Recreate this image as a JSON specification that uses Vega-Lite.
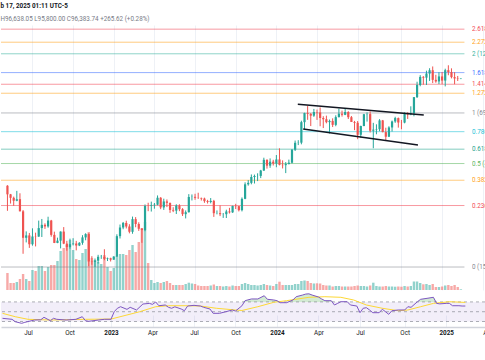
{
"$schema": "https://vega.github.io/schema/vega-lite/v6.json",
"padding": {"left": 0, "top": 3, "right": 0, "bottom": 0},
"background": "#ffffff",
"spacing": 0,
"title": {"text": "b 17, 2025 01:11 UTC-5", "subtitle": "H96,638.05  L95,800.00  C96,383.74  +265.62 (+0.28%)", "anchor": "start", "frame": "bounds", "font": "Roboto", "subtitleFont": "Roboto", "fontSize": 6.3, "subtitleFontSize": 6.3, "fontWeight": "bold", "color": "#131722", "subtitleColor": "#787b86", "subtitlePadding": 6, "offset": 3},
"config": {"font": "Roboto", "view": {"stroke": null}},
"datasets": {
"w": [
{"d":"2022-05-09","o":34060,"h":34240,"l":26700,"c":31330,"v":340},
{"d":"2022-05-16","o":31330,"h":31450,"l":28650,"c":30290,"v":140},
{"d":"2022-05-23","o":30290,"h":30650,"l":28020,"c":29440,"v":140},
{"d":"2022-05-30","o":29440,"h":32400,"l":29300,"c":29900,"v":160},
{"d":"2022-06-06","o":29900,"h":31650,"l":26560,"c":26570,"v":220},
{"d":"2022-06-13","o":26570,"h":26900,"l":17600,"c":20550,"v":320},
{"d":"2022-06-20","o":20550,"h":21870,"l":19650,"c":21030,"v":220},
{"d":"2022-06-27","o":21030,"h":21540,"l":18630,"c":19300,"v":180},
{"d":"2022-07-04","o":19300,"h":22530,"l":19040,"c":20830,"v":400},
{"d":"2022-07-11","o":20830,"h":21600,"l":18900,"c":20790,"v":380},
{"d":"2022-07-18","o":20790,"h":24280,"l":20750,"c":22580,"v":480},
{"d":"2022-07-25","o":22580,"h":24670,"l":20710,"c":23300,"v":480},
{"d":"2022-08-01","o":23300,"h":23650,"l":22400,"c":22950,"v":380},
{"d":"2022-08-08","o":22950,"h":25210,"l":22660,"c":24300,"v":460},
{"d":"2022-08-15","o":24300,"h":24450,"l":20770,"c":21140,"v":500},
{"d":"2022-08-22","o":21140,"h":21810,"l":19520,"c":19550,"v":500},
{"d":"2022-08-29","o":19550,"h":20580,"l":19500,"c":19990,"v":580},
{"d":"2022-09-05","o":19990,"h":21860,"l":18540,"c":21830,"v":780},
{"d":"2022-09-12","o":21830,"h":22800,"l":19320,"c":19420,"v":840},
{"d":"2022-09-19","o":19420,"h":19960,"l":18130,"c":18800,"v":900},
{"d":"2022-09-26","o":18800,"h":20380,"l":18490,"c":19310,"v":1000},
{"d":"2022-10-03","o":19310,"h":20470,"l":19080,"c":19440,"v":800},
{"d":"2022-10-10","o":19440,"h":19950,"l":18190,"c":19070,"v":620},
{"d":"2022-10-17","o":19070,"h":19700,"l":18960,"c":19570,"v":600},
{"d":"2022-10-24","o":19570,"h":21080,"l":19210,"c":20630,"v":740},
{"d":"2022-10-31","o":20630,"h":21480,"l":20060,"c":21300,"v":820},
{"d":"2022-11-07","o":21300,"h":21470,"l":15590,"c":16330,"v":1160},
{"d":"2022-11-14","o":16330,"h":17190,"l":15820,"c":16280,"v":640},
{"d":"2022-11-21","o":16280,"h":16810,"l":15480,"c":16460,"v":600},
{"d":"2022-11-28","o":16460,"h":17420,"l":16000,"c":17090,"v":560},
{"d":"2022-12-05","o":17090,"h":17400,"l":16750,"c":17100,"v":520},
{"d":"2022-12-12","o":17100,"h":18390,"l":16530,"c":16750,"v":700},
{"d":"2022-12-19","o":16750,"h":16960,"l":16400,"c":16840,"v":460},
{"d":"2022-12-26","o":16840,"h":16940,"l":16330,"c":16620,"v":380},
{"d":"2023-01-02","o":16620,"h":17180,"l":16600,"c":17130,"v":440},
{"d":"2023-01-09","o":17130,"h":21260,"l":17100,"c":20880,"v":680},
{"d":"2023-01-16","o":20880,"h":23370,"l":20410,"c":22710,"v":720},
{"d":"2023-01-23","o":22710,"h":23960,"l":22330,"c":23740,"v":720},
{"d":"2023-01-30","o":23740,"h":24250,"l":22500,"c":22930,"v":700},
{"d":"2023-02-06","o":22930,"h":23450,"l":21460,"c":21780,"v":800},
{"d":"2023-02-13","o":21780,"h":25250,"l":21370,"c":24630,"v":900},
{"d":"2023-02-20","o":24630,"h":25120,"l":22760,"c":23490,"v":760},
{"d":"2023-02-27","o":23490,"h":23890,"l":21970,"c":22430,"v":960},
{"d":"2023-03-06","o":22430,"h":22600,"l":19570,"c":22150,"v":1240},
{"d":"2023-03-13","o":22150,"h":28400,"l":21900,"c":28000,"v":1360},
{"d":"2023-03-20","o":28000,"h":28870,"l":26600,"c":27990,"v":540},
{"d":"2023-03-27","o":27990,"h":29190,"l":26510,"c":28190,"v":200},
{"d":"2023-04-03","o":28190,"h":28800,"l":27250,"c":28330,"v":140},
{"d":"2023-04-10","o":28330,"h":31000,"l":28170,"c":30310,"v":160},
{"d":"2023-04-17","o":30310,"h":30490,"l":27130,"c":27590,"v":140},
{"d":"2023-04-24","o":27590,"h":30030,"l":26940,"c":29240,"v":160},
{"d":"2023-05-01","o":29240,"h":29820,"l":27680,"c":28850,"v":180},
{"d":"2023-05-08","o":28850,"h":28880,"l":26170,"c":26930,"v":140},
{"d":"2023-05-15","o":26930,"h":27650,"l":26360,"c":26750,"v":100},
{"d":"2023-05-22","o":26750,"h":28450,"l":25880,"c":28080,"v":100},
{"d":"2023-05-29","o":28080,"h":28450,"l":26600,"c":27120,"v":100},
{"d":"2023-06-05","o":27120,"h":27400,"l":25390,"c":25850,"v":100},
{"d":"2023-06-12","o":25850,"h":26800,"l":24800,"c":26340,"v":120},
{"d":"2023-06-19","o":26340,"h":31390,"l":26250,"c":30540,"v":146},
{"d":"2023-06-26","o":30540,"h":31300,"l":29520,"c":30580,"v":130},
{"d":"2023-07-03","o":30580,"h":31500,"l":29710,"c":30290,"v":120},
{"d":"2023-07-10","o":30290,"h":31820,"l":29960,"c":30250,"v":90},
{"d":"2023-07-17","o":30250,"h":30350,"l":29500,"c":30080,"v":80},
{"d":"2023-07-24","o":30080,"h":30340,"l":28860,"c":29330,"v":80},
{"d":"2023-07-31","o":29330,"h":29700,"l":28660,"c":29080,"v":80},
{"d":"2023-08-07","o":29080,"h":30220,"l":28700,"c":29400,"v":90},
{"d":"2023-08-14","o":29400,"h":29690,"l":25170,"c":26090,"v":110},
{"d":"2023-08-21","o":26090,"h":26800,"l":25800,"c":26100,"v":80},
{"d":"2023-08-28","o":26100,"h":28140,"l":25370,"c":25830,"v":80},
{"d":"2023-09-04","o":25830,"h":26140,"l":24930,"c":25840,"v":70},
{"d":"2023-09-11","o":25840,"h":26990,"l":24900,"c":26530,"v":80},
{"d":"2023-09-18","o":26530,"h":27480,"l":26010,"c":26300,"v":70},
{"d":"2023-09-25","o":26300,"h":28060,"l":26170,"c":27990,"v":90},
{"d":"2023-10-02","o":27990,"h":28580,"l":27160,"c":27930,"v":80},
{"d":"2023-10-09","o":27930,"h":27980,"l":26540,"c":26860,"v":80},
{"d":"2023-10-16","o":26860,"h":30400,"l":26540,"c":29990,"v":120},
{"d":"2023-10-23","o":29990,"h":35200,"l":29880,"c":34530,"v":140},
{"d":"2023-10-30","o":34530,"h":35980,"l":34080,"c":35020,"v":120},
{"d":"2023-11-06","o":35020,"h":38000,"l":34530,"c":37070,"v":100},
{"d":"2023-11-13","o":37070,"h":37950,"l":34800,"c":37450,"v":100},
{"d":"2023-11-20","o":37450,"h":38420,"l":35630,"c":37460,"v":90},
{"d":"2023-11-27","o":37460,"h":39720,"l":36680,"c":39470,"v":100},
{"d":"2023-12-04","o":39470,"h":44700,"l":39280,"c":43790,"v":120},
{"d":"2023-12-11","o":43790,"h":44000,"l":40220,"c":41380,"v":100},
{"d":"2023-12-18","o":41380,"h":44400,"l":40520,"c":43010,"v":90},
{"d":"2023-12-25","o":43010,"h":43800,"l":41440,"c":42280,"v":80},
{"d":"2024-01-01","o":42280,"h":45880,"l":40750,"c":43950,"v":120},
{"d":"2024-01-08","o":43950,"h":48970,"l":41500,"c":41730,"v":166},
{"d":"2024-01-15","o":41730,"h":43570,"l":40280,"c":41580,"v":100},
{"d":"2024-01-22","o":41580,"h":42840,"l":38500,"c":42030,"v":100},
{"d":"2024-01-29","o":42030,"h":43880,"l":41880,"c":42580,"v":100},
{"d":"2024-02-05","o":42580,"h":48590,"l":42260,"c":48300,"v":100},
{"d":"2024-02-12","o":48300,"h":52800,"l":47710,"c":51660,"v":120},
{"d":"2024-02-19","o":51660,"h":52980,"l":50520,"c":51730,"v":120},
{"d":"2024-02-26","o":51730,"h":64000,"l":50900,"c":63110,"v":180},
{"d":"2024-03-04","o":63110,"h":69170,"l":59000,"c":68950,"v":190},
{"d":"2024-03-11","o":68950,"h":73780,"l":64550,"c":68390,"v":180},
{"d":"2024-03-18","o":68390,"h":68920,"l":60770,"c":67220,"v":140},
{"d":"2024-03-25","o":67220,"h":71760,"l":66430,"c":69650,"v":130},
{"d":"2024-04-01","o":69650,"h":71300,"l":64500,"c":69360,"v":134},
{"d":"2024-04-08","o":69360,"h":72800,"l":60660,"c":65700,"v":130},
{"d":"2024-04-15","o":65700,"h":66870,"l":59600,"c":64940,"v":100},
{"d":"2024-04-22","o":64940,"h":67230,"l":62400,"c":63110,"v":90},
{"d":"2024-04-29","o":63110,"h":64740,"l":56550,"c":63880,"v":90},
{"d":"2024-05-06","o":63880,"h":65500,"l":60190,"c":61480,"v":70},
{"d":"2024-05-13","o":61480,"h":67450,"l":60660,"c":66270,"v":80},
{"d":"2024-05-20","o":66270,"h":71950,"l":66060,"c":68510,"v":80},
{"d":"2024-05-27","o":68510,"h":70600,"l":66600,"c":67770,"v":70},
{"d":"2024-06-03","o":67770,"h":71950,"l":67550,"c":69650,"v":70},
{"d":"2024-06-10","o":69650,"h":70200,"l":65060,"c":66220,"v":70},
{"d":"2024-06-17","o":66220,"h":67000,"l":63220,"c":63230,"v":70},
{"d":"2024-06-24","o":63230,"h":63900,"l":58400,"c":62730,"v":80},
{"d":"2024-07-01","o":62730,"h":63800,"l":53500,"c":55850,"v":90},
{"d":"2024-07-08","o":55850,"h":61000,"l":54300,"c":60800,"v":80},
{"d":"2024-07-15","o":60800,"h":68370,"l":60650,"c":68150,"v":80},
{"d":"2024-07-22","o":68150,"h":69400,"l":63450,"c":68250,"v":70},
{"d":"2024-07-29","o":68250,"h":70000,"l":57100,"c":58100,"v":90},
{"d":"2024-08-05","o":58100,"h":62700,"l":49000,"c":58700,"v":146},
{"d":"2024-08-12","o":58700,"h":61800,"l":56100,"c":58950,"v":80},
{"d":"2024-08-19","o":58950,"h":65000,"l":57800,"c":64200,"v":70},
{"d":"2024-08-26","o":64200,"h":64480,"l":57200,"c":57300,"v":70},
{"d":"2024-09-02","o":57300,"h":59800,"l":52550,"c":54800,"v":80},
{"d":"2024-09-09","o":54800,"h":60650,"l":54600,"c":59950,"v":70},
{"d":"2024-09-16","o":59950,"h":64100,"l":57600,"c":63550,"v":70},
{"d":"2024-09-23","o":63550,"h":66500,"l":62700,"c":65650,"v":66},
{"d":"2024-09-30","o":65650,"h":66000,"l":59850,"c":62900,"v":70},
{"d":"2024-10-07","o":62900,"h":64500,"l":58900,"c":62850,"v":66},
{"d":"2024-10-14","o":62850,"h":69400,"l":62400,"c":69000,"v":80},
{"d":"2024-10-21","o":69000,"h":69500,"l":65100,"c":67950,"v":70},
{"d":"2024-10-28","o":67950,"h":73600,"l":67500,"c":68750,"v":80},
{"d":"2024-11-04","o":68750,"h":80500,"l":66800,"c":80450,"v":170},
{"d":"2024-11-11","o":80450,"h":93450,"l":79800,"c":90550,"v":170},
{"d":"2024-11-18","o":90550,"h":99600,"l":89400,"c":97900,"v":140},
{"d":"2024-11-25","o":97900,"h":98700,"l":90800,"c":97200,"v":114},
{"d":"2024-12-02","o":97200,"h":104000,"l":90500,"c":101150,"v":120},
{"d":"2024-12-09","o":101150,"h":106500,"l":94150,"c":104450,"v":100},
{"d":"2024-12-16","o":104450,"h":108350,"l":92200,"c":95150,"v":120},
{"d":"2024-12-23","o":95150,"h":99950,"l":92500,"c":93700,"v":60},
{"d":"2024-12-30","o":93700,"h":102500,"l":91300,"c":98350,"v":60},
{"d":"2025-01-06","o":98350,"h":102700,"l":91200,"c":94500,"v":70},
{"d":"2025-01-13","o":94500,"h":106000,"l":89300,"c":104500,"v":90},
{"d":"2025-01-20","o":104500,"h":109600,"l":99500,"c":102600,"v":100},
{"d":"2025-01-27","o":102600,"h":106400,"l":96500,"c":97700,"v":80},
{"d":"2025-02-03","o":97700,"h":102500,"l":91200,"c":96450,"v":100},
{"d":"2025-02-10","o":96450,"h":98800,"l":94100,"c":96120,"v":60},
{"d":"2025-02-17","o":96120,"h":96640,"l":95800,"c":96380,"v":14}
],
"rsi": [
{"d":"2022-05-09","v":36.5},{"d":"2022-05-30","v":34.5},{"d":"2022-06-06","v":29.6},{"d":"2022-06-20","v":26.3},{"d":"2022-06-27","v":28.3},
{"d":"2022-07-18","v":33},{"d":"2022-08-01","v":33.5},{"d":"2022-08-08","v":38.6},{"d":"2022-08-22","v":31.6},{"d":"2022-08-29","v":36.5},
{"d":"2022-09-05","v":34.5},{"d":"2022-09-26","v":33},{"d":"2022-10-17","v":34.5},{"d":"2022-10-31","v":39.8},{"d":"2022-11-07","v":31.6},
{"d":"2022-11-14","v":30.4},{"d":"2022-12-05","v":33},{"d":"2022-12-19","v":34.5},{"d":"2023-01-02","v":34.5},{"d":"2023-01-09","v":50},
{"d":"2023-01-16","v":57},{"d":"2023-01-23","v":60.2},{"d":"2023-02-06","v":54.8},{"d":"2023-02-13","v":59},{"d":"2023-02-27","v":53.5},
{"d":"2023-03-13","v":65.7},{"d":"2023-03-27","v":67},{"d":"2023-04-03","v":65},{"d":"2023-04-10","v":69.8},{"d":"2023-04-17","v":62.2},
{"d":"2023-05-01","v":63.7},{"d":"2023-05-08","v":59},{"d":"2023-05-15","v":57},{"d":"2023-05-22","v":60},{"d":"2023-06-05","v":55.5},
{"d":"2023-06-12","v":52},{"d":"2023-06-19","v":61.6},{"d":"2023-07-03","v":63},{"d":"2023-07-17","v":61.6},{"d":"2023-07-24","v":59},
{"d":"2023-08-07","v":55.5},{"d":"2023-08-14","v":46.7},{"d":"2023-08-28","v":46.7},{"d":"2023-09-11","v":50},{"d":"2023-09-25","v":53.5},
{"d":"2023-10-02","v":51.4},{"d":"2023-10-16","v":62},{"d":"2023-10-23","v":72.5},{"d":"2023-11-06","v":76},{"d":"2023-11-20","v":76},
{"d":"2023-12-04","v":82.6},{"d":"2023-12-11","v":75.3},{"d":"2023-12-25","v":73.9},{"d":"2024-01-01","v":72.5},{"d":"2024-01-08","v":68.4},
{"d":"2024-01-22","v":68.4},{"d":"2024-02-05","v":73.9},{"d":"2024-02-12","v":80.6},{"d":"2024-02-26","v":84},{"d":"2024-03-04","v":86},
{"d":"2024-03-11","v":86.5},{"d":"2024-03-18","v":84},{"d":"2024-04-01","v":80},{"d":"2024-04-08","v":76},{"d":"2024-04-15","v":72.5},
{"d":"2024-04-29","v":72.5},{"d":"2024-05-06","v":63.7},{"d":"2024-05-13","v":67},{"d":"2024-05-20","v":70.4},{"d":"2024-06-03","v":70.4},
{"d":"2024-06-10","v":63.7},{"d":"2024-06-24","v":61.6},{"d":"2024-07-01","v":48},{"d":"2024-07-08","v":57},{"d":"2024-07-15","v":58.2},
{"d":"2024-07-22","v":53.5},{"d":"2024-07-29","v":48},{"d":"2024-08-12","v":48},{"d":"2024-08-19","v":55},{"d":"2024-09-02","v":44.7},
{"d":"2024-09-09","v":52},{"d":"2024-09-23","v":53.5},{"d":"2024-10-07","v":53.5},{"d":"2024-10-14","v":60.2},{"d":"2024-10-21","v":59},
{"d":"2024-11-04","v":70.4},{"d":"2024-11-11","v":75.3},{"d":"2024-11-25","v":77.3},{"d":"2024-12-09","v":79.4},{"d":"2024-12-16","v":67},
{"d":"2024-12-23","v":66},{"d":"2025-01-06","v":67},{"d":"2025-01-13","v":67},{"d":"2025-01-20","v":62.2},{"d":"2025-02-03","v":62.2},
{"d":"2025-02-10","v":61.6},{"d":"2025-02-17","v":61.6}
],
"ma": [
{"d":"2022-05-09","v":46.7},{"d":"2022-06-06","v":39.8},{"d":"2022-07-04","v":34.5},{"d":"2022-08-22","v":33},{"d":"2022-11-07","v":34.5},
{"d":"2023-01-02","v":35},{"d":"2023-02-06","v":43.3},{"d":"2023-03-06","v":50},{"d":"2023-04-10","v":60.2},{"d":"2023-05-08","v":62.2},
{"d":"2023-06-19","v":62.2},{"d":"2023-07-17","v":61.6},{"d":"2023-08-21","v":57},{"d":"2023-10-02","v":53.5},{"d":"2023-10-16","v":52.5},
{"d":"2023-11-20","v":60.2},{"d":"2023-12-25","v":69.2},{"d":"2024-01-22","v":72.5},{"d":"2024-03-11","v":79.4},{"d":"2024-04-15","v":80.6},
{"d":"2024-05-20","v":79.4},{"d":"2024-06-17","v":73.9},{"d":"2024-07-15","v":63.7},{"d":"2024-08-19","v":57},{"d":"2024-09-23","v":52},
{"d":"2024-10-14","v":53.5},{"d":"2024-11-11","v":60.2},{"d":"2024-12-09","v":67},{"d":"2025-01-13","v":70.4},{"d":"2025-02-17","v":69}
],
"fib": [
{"lvl":"2.618","p":155601.83,"t":"2.618 (155,601.83)"},
{"lvl":"2.272","p":137082.53,"t":"2.272 (137,082.53)"},
{"lvl":"2","p":122524,"t":"2 (122,524.00)"},
{"lvl":"1.618","p":102077.83,"t":"1.618 (102,077.83)"},
{"lvl":"1.414","p":91158.94,"t":"1.414 (91,158.94)"},
{"lvl":"1.272","p":83558.53,"t":"1.272 (83,558.53)"},
{"lvl":"1","p":69000,"t":"1 (69,000.00)"},
{"lvl":"0.786","p":57545.86,"t":"0.786 (57,545.86)"},
{"lvl":"0.618","p":48553.83,"t":"0.618 (48,553.83)"},
{"lvl":"0.5","p":42238,"t":"0.5 (42,238.00)"},
{"lvl":"0.382","p":35922.17,"t":"0.382 (35,922.17)"},
{"lvl":"0.236","p":28107.66,"t":"0.236 (28,107.66)"},
{"lvl":"0","p":15476,"t":"0 (15,476.00)"}
],
"ch": [
{"d":"2024-02-18","p":75060,"g":"a"},{"d":"2024-11-26","p":67640,"g":"a"},
{"d":"2024-03-01","p":59040,"g":"b"},{"d":"2024-11-13","p":50560,"g":"b"}
]
},
"vconcat": [
{
"width": 490, "height": 265,
"resolve": {"scale": {"y": "independent"}},
"layer": [
{"data": {"name": "w"},
 "mark": {"type": "bar", "width": 2.4, "opacity": 0.5, "clip": true},
 "encoding": {
  "x": {"field": "d", "type": "temporal", "scale": {"type": "utc", "domain": [{"year":2022,"month":5,"date":5,"hours":18,"minutes":30,"utc":true},{"year":2025,"month":4,"date":14,"hours":7,"utc":true}]},
        "axis": {"values": [{"year":2022,"month":7,"date":4,"utc":true},{"year":2022,"month":10,"date":3,"utc":true},{"year":2023,"month":1,"date":2,"utc":true},{"year":2023,"month":4,"date":3,"utc":true},{"year":2023,"month":7,"date":3,"utc":true},{"year":2023,"month":10,"date":2,"utc":true},{"year":2024,"month":1,"date":1,"utc":true},{"year":2024,"month":4,"date":1,"utc":true},{"year":2024,"month":7,"date":1,"utc":true},{"year":2024,"month":10,"date":7,"utc":true},{"year":2025,"month":1,"date":6,"utc":true},{"year":2025,"month":4,"date":7,"utc":true}],
                 "labels": false, "ticks": false, "domain": false, "grid": true, "gridColor": "#eef1f6", "title": null}},
  "y": {"field": "v", "type": "quantitative", "scale": {"domain": [0, 5300], "nice": false}, "axis": null},
  "color": {"condition": {"test": "datum.c >= datum.o", "value": "#26a69a"}, "value": "#ef5350"}
 }},
{"layer": [
 {"data": {"name": "fib"},
  "mark": {"type": "rule", "opacity": 0.5, "clip": true},
  "encoding": {
   "x": {"datum": {"year":2022,"month":4,"date":1,"utc":true}, "type": "temporal"},
   "x2": {"datum": {"year":2025,"month":2,"date":25,"utc":true}},
   "y": {"field": "p", "type": "quantitative", "scale": {"type": "log", "domain": [12383, 162008], "nice": false}, "axis": null},
   "color": {"field": "lvl", "type": "nominal", "legend": null, "scale": {"domain": ["2.618","2.272","2","1.618","1.414","1.272","1","0.786","0.618","0.5","0.382","0.236","0"], "range": ["#f23645","#ff9800","#22ab94","#2962ff","#f23645","#ff9800","#787b86","#00bcd4","#089981","#4caf50","#ff9800","#f23645","#787b86"]}},
   "strokeWidth": {"field": "lvl", "type": "nominal", "legend": null, "scale": {"domain": ["2.618","2.272","2","1.618","1.414","1.272","1","0.786","0.618","0.5","0.382","0.236","0"], "range": [1,1,1,1,1.5,2,1,1,1,1.8,1,1,1]}}
  }},
 {"data": {"name": "fib"},
  "mark": {"type": "text", "align": "left", "baseline": "middle", "fontSize": 6.3, "opacity": 0.9, "clip": true},
  "encoding": {
   "x": {"datum": {"year":2025,"month":3,"date":14,"utc":true}, "type": "temporal"},
   "y": {"field": "p", "type": "quantitative", "scale": {"type": "log", "domain": [12383, 162008], "nice": false}, "axis": null},
   "text": {"field": "t"},
   "color": {"field": "lvl", "type": "nominal", "legend": null}
  }},
 {"data": {"name": "w"},
  "mark": {"type": "rule", "strokeWidth": 1, "clip": true},
  "encoding": {
   "x": {"field": "d", "type": "temporal"},
   "y": {"field": "l", "type": "quantitative", "scale": {"type": "log", "domain": [12383, 162008], "nice": false}, "axis": null},
   "y2": {"field": "h"},
   "color": {"condition": {"test": "datum.c >= datum.o", "value": "#26a69a"}, "value": "#ef5350"}
  }},
 {"data": {"name": "w"},
  "mark": {"type": "bar", "width": 2.2, "clip": true},
  "encoding": {
   "x": {"field": "d", "type": "temporal"},
   "y": {"field": "o", "type": "quantitative", "scale": {"type": "log", "domain": [12383, 162008], "nice": false}, "axis": null},
   "y2": {"field": "c"},
   "color": {"condition": {"test": "datum.c >= datum.o", "value": "#26a69a"}, "value": "#ef5350"}
  }},
 {"data": {"name": "ch"},
  "mark": {"type": "line", "color": "#131722", "strokeWidth": 1.6, "clip": true},
  "encoding": {
   "x": {"field": "d", "type": "temporal"},
   "y": {"field": "p", "type": "quantitative", "scale": {"type": "log", "domain": [12383, 162008], "nice": false}, "axis": null},
   "detail": {"field": "g"}
  }}
]}
]
},
{
"width": 490, "height": 37,
"resolve": {"scale": {"y": "independent"}},
"layer": [
{"data": {"name": "rsi"},
 "mark": {"type": "area", "color": "#4caf50", "opacity": 0.25, "clip": true},
 "encoding": {
  "x": {"field": "d", "type": "temporal", "scale": {"type": "utc", "domain": [{"year":2022,"month":5,"date":5,"hours":18,"minutes":30,"utc":true},{"year":2025,"month":4,"date":14,"hours":7,"utc":true}]}},
  "y": {"field": "v", "type": "quantitative", "scale": {"domain": [70, 94.3], "range": [11.9, 0], "clamp": true, "nice": false, "zero": false}, "axis": null},
  "y2": {"datum": 70}
 }},
{"layer": [
 {"data": {"values": [{}]},
  "mark": {"type": "rect", "color": "#7e57c2", "opacity": 0.1},
  "encoding": {
   "y": {"datum": 70, "type": "quantitative", "scale": {"domain": [18.8, 94.3], "nice": false, "zero": false}, "axis": null},
   "y2": {"datum": 30}
  }},
 {"data": {"values": [{"lvl": 70}, {"lvl": 50}, {"lvl": 30}]},
  "mark": {"type": "rule", "strokeDash": [3, 3], "color": "#787b86", "opacity": 0.6, "strokeWidth": 1},
  "encoding": {
   "y": {"field": "lvl", "type": "quantitative", "scale": {"domain": [18.8, 94.3], "nice": false, "zero": false}, "axis": null}
  }},
 {"data": {"name": "ma"},
  "mark": {"type": "line", "color": "#fdd835", "strokeWidth": 1, "clip": true},
  "encoding": {
   "x": {"field": "d", "type": "temporal"},
   "y": {"field": "v", "type": "quantitative", "scale": {"domain": [18.8, 94.3], "nice": false, "zero": false}, "axis": null}
  }},
 {"data": {"name": "rsi"},
  "mark": {"type": "line", "color": "#7e57c2", "strokeWidth": 1, "clip": true},
  "encoding": {
   "x": {"field": "d", "type": "temporal",
         "axis": {"values": [{"year":2022,"month":7,"date":4,"utc":true},{"year":2022,"month":10,"date":3,"utc":true},{"year":2023,"month":1,"date":2,"utc":true},{"year":2023,"month":4,"date":3,"utc":true},{"year":2023,"month":7,"date":3,"utc":true},{"year":2023,"month":10,"date":2,"utc":true},{"year":2024,"month":1,"date":1,"utc":true},{"year":2024,"month":4,"date":1,"utc":true},{"year":2024,"month":7,"date":1,"utc":true},{"year":2024,"month":10,"date":7,"utc":true},{"year":2025,"month":1,"date":6,"utc":true},{"year":2025,"month":4,"date":7,"utc":true}],
                  "labelExpr": "utcFormat(datum.value, '%m') == '01' ? utcFormat(datum.value, '%Y') : utcFormat(datum.value, '%b')",
                  "labelFontWeight": {"condition": {"test": "utcFormat(datum.value, '%m') == '01'", "value": "bold"}, "value": "normal"},
                  "labelFont": "Roboto", "labelFontSize": 6.3, "labelColor": "#131722", "labelPadding": 2.5,
                  "labelFlush": false, "labelOverlap": false, "labelBound": false,
                  "ticks": false, "domain": true, "domainColor": "#d1d4dc", "domainWidth": 1.5,
                  "grid": true, "gridColor": "#eef1f6", "title": null}},
   "y": {"field": "v", "type": "quantitative", "scale": {"domain": [18.8, 94.3], "nice": false, "zero": false}, "axis": null}
  }}
]}
]
}
]
}
